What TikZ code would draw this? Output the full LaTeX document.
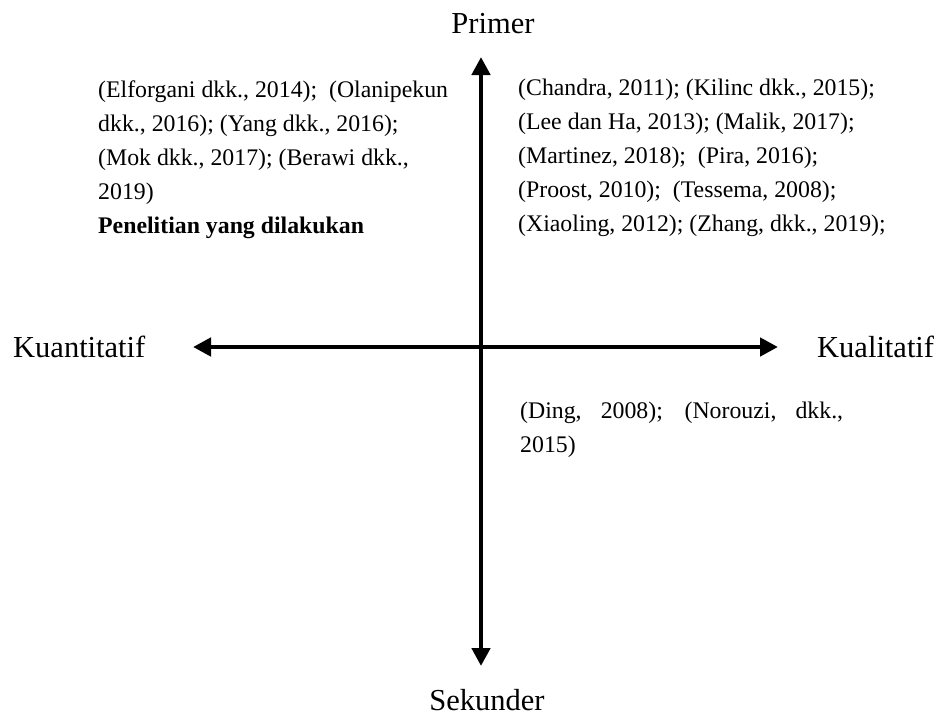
\documentclass[tikz,border=0pt]{standalone}
\usepackage{fontspec}
\setmainfont{Liberation Serif}
\usetikzlibrary{arrows.meta}

\tikzset{
    axis/.style={line width=4.5pt, {Triangle[length=18pt,width=18pt]}-{Triangle[length=18pt,width=18pt]}},
    axislabel/.style={font=\fontsize{30.5}{36}\selectfont, inner sep=0pt},
    refs/.style={font=\fontsize{23.8}{34}\selectfont, align=left, inner sep=0pt, anchor=base west}
}

\begin{document}
\begin{tikzpicture}[x=1pt,y=-1pt]

\useasboundingbox (0,0) rectangle (940,720);

% --- Axis ends ---
\coordinate (top) at (481,57);
\coordinate (bottom) at (481,666);
\coordinate (left) at (193,347);
\coordinate (right) at (778,347);

% Axes
\draw[axis] (bottom) -- (top);
\draw[axis] (left) -- (right);

% Axis labels
\node[axislabel, anchor=base] (primer) at (493,33) {Primer};
\node[axislabel, anchor=base] (sekunder) at (487,710) {Sekunder};
\node[axislabel, anchor=base west] (kuan) at (13,357) {Kuantitatif};
\node[axislabel, anchor=base west] (kual) at (817,357) {Kualitatif};

% --- Quadrant texts (anchored at the baseline of the last line) ---
\node[refs] (kiriatas) at (98,233) {(Elforgani dkk., 2014); \ (Olanipekun\\
    dkk., 2016); (Yang dkk., 2016);\\
    (Mok dkk., 2017); (Berawi dkk.,\\
    2019)\\
    \textbf{Penelitian yang dilakukan}};

\node[refs] (kananatas) at (518,231) {(Chandra, 2011); (Kilinc dkk., 2015);\\
    (Lee dan Ha, 2013); (Malik, 2017);\\
    (Martinez, 2018); \ (Pira, 2016);\\
    (Proost, 2010); \ (Tessema, 2008);\\
    (Xiaoling, 2012); (Zhang, dkk., 2019);};

\node[refs] (kananbawah) at (520,452) {\makebox[323pt][s]{(Ding, 2008); (Norouzi, dkk.,}\\
    2015)};

\end{tikzpicture}
\end{document}
